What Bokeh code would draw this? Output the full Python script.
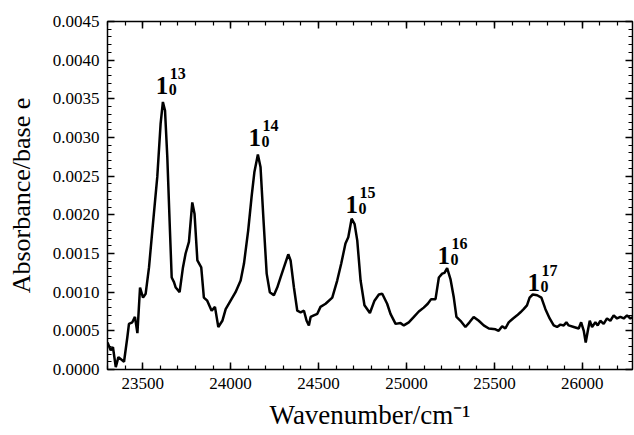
from bokeh.plotting import figure
from bokeh.models import (Range1d, LinearAxis, SingleIntervalTicker, NumeralTickFormatter,
                          CustomJSTickFormatter)
from bokeh.core.properties import value
from bokeh.embed import file_html
from bokeh.resources import INLINE

wavenumber = [23300, 23318, 23331, 23347, 23362, 23394, 23413, 23422, 23441, 23456, 23470, 23485,
              23502, 23517, 23536, 23555, 23583, 23602, 23615, 23627, 23640, 23655, 23665, 23678,
              23688, 23710, 23729, 23744, 23763, 23782, 23795, 23811, 23833, 23848, 23867, 23892,
              23911, 23930, 23953, 23972, 24000, 24028, 24057, 24076, 24100, 24120, 24135, 24155,
              24170, 24186, 24205, 24223, 24246, 24265, 24284, 24303, 24328, 24341, 24360, 24379,
              24398, 24417, 24432, 24445, 24455, 24473, 24493, 24511, 24540, 24578, 24606, 24629,
              24653, 24669, 24688, 24705, 24720, 24739, 24761, 24792, 24818, 24843, 24862, 24890,
              24909, 24938, 24966, 24985, 25013, 25042, 25070, 25098, 25121, 25140, 25165, 25184,
              25203, 25216, 25231, 25250, 25269, 25284, 25307, 25335, 25358, 25382, 25411, 25439,
              25468, 25506, 25524, 25544, 25562, 25581, 25606, 25629, 25648, 25666, 25685, 25700,
              25718, 25743, 25767, 25790, 25814, 25837, 25856, 25875, 25894, 25909, 25922, 25951,
              25979, 25993, 26008, 26019, 26031, 26042, 26055, 26074, 26087, 26102, 26121, 26140,
              26159, 26178, 26197, 26216, 26235, 26254, 26273, 26290]
absorbance = [0.00035, 0.00025, 0.00029, 0.00003, 0.00016, 0.00010, 0.00042, 0.00059, 0.00061, 0.00068, 0.00047, 0.00106,
              0.00093, 0.00098, 0.00132, 0.00180, 0.00249, 0.00318, 0.00346, 0.00335, 0.00275, 0.00180, 0.00119, 0.00113,
              0.00106, 0.00100, 0.00132, 0.00150, 0.00165, 0.00216, 0.00201, 0.00141, 0.00132, 0.00093, 0.00089, 0.00076,
              0.00081, 0.00055, 0.00063, 0.00078, 0.00089, 0.00100, 0.00115, 0.00137, 0.00180, 0.00225, 0.00255, 0.00278,
              0.00262, 0.00197, 0.00124, 0.00100, 0.00096, 0.00106, 0.00119, 0.00132, 0.00149, 0.00141, 0.00106, 0.00076,
              0.00074, 0.00076, 0.00063, 0.00057, 0.00068, 0.00070, 0.00072, 0.00081, 0.00085, 0.00093, 0.00115, 0.00137,
              0.00163, 0.00171, 0.00195, 0.00188, 0.00167, 0.00115, 0.00083, 0.00073, 0.00089, 0.00097, 0.00098, 0.00085,
              0.00072, 0.00059, 0.00060, 0.00057, 0.00061, 0.00068, 0.00075, 0.00080, 0.00085, 0.00091, 0.00091, 0.00119,
              0.00124, 0.00125, 0.00131, 0.00117, 0.00093, 0.00068, 0.00063, 0.00055, 0.00061, 0.00068, 0.00063, 0.00057,
              0.00053, 0.00052, 0.00050, 0.00056, 0.00053, 0.00061, 0.00066, 0.00070, 0.00074, 0.00078, 0.00083, 0.00093,
              0.00097, 0.00096, 0.00093, 0.00078, 0.00066, 0.00057, 0.00055, 0.00058, 0.00057, 0.00061, 0.00057, 0.00055,
              0.00053, 0.00061, 0.00050, 0.00035, 0.00050, 0.00063, 0.00055, 0.00061, 0.00057, 0.00063, 0.00059, 0.00066,
              0.00063, 0.00070, 0.00066, 0.00068, 0.00066, 0.00070, 0.00066, 0.00068]

band_x = [23574, 24102, 24653, 25176, 25688]
band_y = [0.00367, 0.00300, 0.00214, 0.00147, 0.00113]
band_main = ["1", "1", "1", "1", "1"]
band_sub = ["0", "0", "0", "0", "0"]
band_sup = ["13", "14", "15", "16", "17"]

FONT = "Liberation Serif"

p = figure(width=634, height=435, output_backend="svg", toolbar_location=None,
           x_range=Range1d(23300, 26285), y_range=Range1d(0, 0.0045000001),
           min_border_left=107, min_border_right=2, min_border_top=21, min_border_bottom=66,
           background_fill_color="white", border_fill_color="white")
p.grid.visible = False
p.outline_line_color = "black"
p.outline_line_width = 1.5

p.line(wavenumber, absorbance, line_color="black", line_width=2.5)

p.text(x=band_x, y=band_y, text=band_main, text_font=value(FONT), text_font_style="bold",
       text_font_size="25px", text_baseline="alphabetic", text_align="left", text_color="black")
p.text(x=band_x, y=band_y, text=band_sub, text_font=value(FONT), text_font_style="bold",
       text_font_size="16px", text_baseline="alphabetic", text_align="left", text_color="black",
       x_offset=13, y_offset=4)
p.text(x=band_x, y=band_y, text=band_sup, text_font=value(FONT), text_font_style="bold",
       text_font_size="16px", text_baseline="alphabetic", text_align="left", text_color="black",
       x_offset=14, y_offset=-12)

blank = CustomJSTickFormatter(code="return ''")

def style(ax, labels=True):
    ax.axis_line_color = None
    ax.major_tick_in = 7
    ax.major_tick_out = 0
    ax.minor_tick_in = 4
    ax.minor_tick_out = 0
    ax.major_tick_line_color = "black"
    ax.minor_tick_line_color = "black"
    ax.major_tick_line_width = 1.5
    ax.minor_tick_line_width = 1.2
    if labels:
        ax.major_label_text_font = FONT
        ax.major_label_text_font_size = "17px"
        ax.major_label_text_color = "black"
        ax.major_label_standoff = 8
        ax.axis_label_text_font = FONT
        ax.axis_label_text_font_style = "normal"
        ax.axis_label_text_color = "black"
    else:
        ax.formatter = blank
        ax.major_label_standoff = 0

xa = p.xaxis[0]
xa.ticker = SingleIntervalTicker(interval=500, num_minor_ticks=5)
style(xa)
xa.axis_label = "Wavenumber/cm\u207b\u00b9"
xa.axis_label_text_font_size = "27px"
xa.axis_label_standoff = 8

ya = p.yaxis[0]
ya.ticker = SingleIntervalTicker(interval=0.0005, num_minor_ticks=5)
ya.formatter = NumeralTickFormatter(format="0.0000")
style(ya)
ya.axis_label = "Absorbance/base e"
ya.axis_label_text_font_size = "26px"
ya.axis_label_standoff = 14

top = LinearAxis(ticker=SingleIntervalTicker(interval=500, num_minor_ticks=5))
style(top, labels=False)
p.add_layout(top, "above")
right = LinearAxis(ticker=SingleIntervalTicker(interval=0.0005, num_minor_ticks=5))
style(right, labels=False)
p.add_layout(right, "right")

open("out.html", "w").write(file_html(p, INLINE))
